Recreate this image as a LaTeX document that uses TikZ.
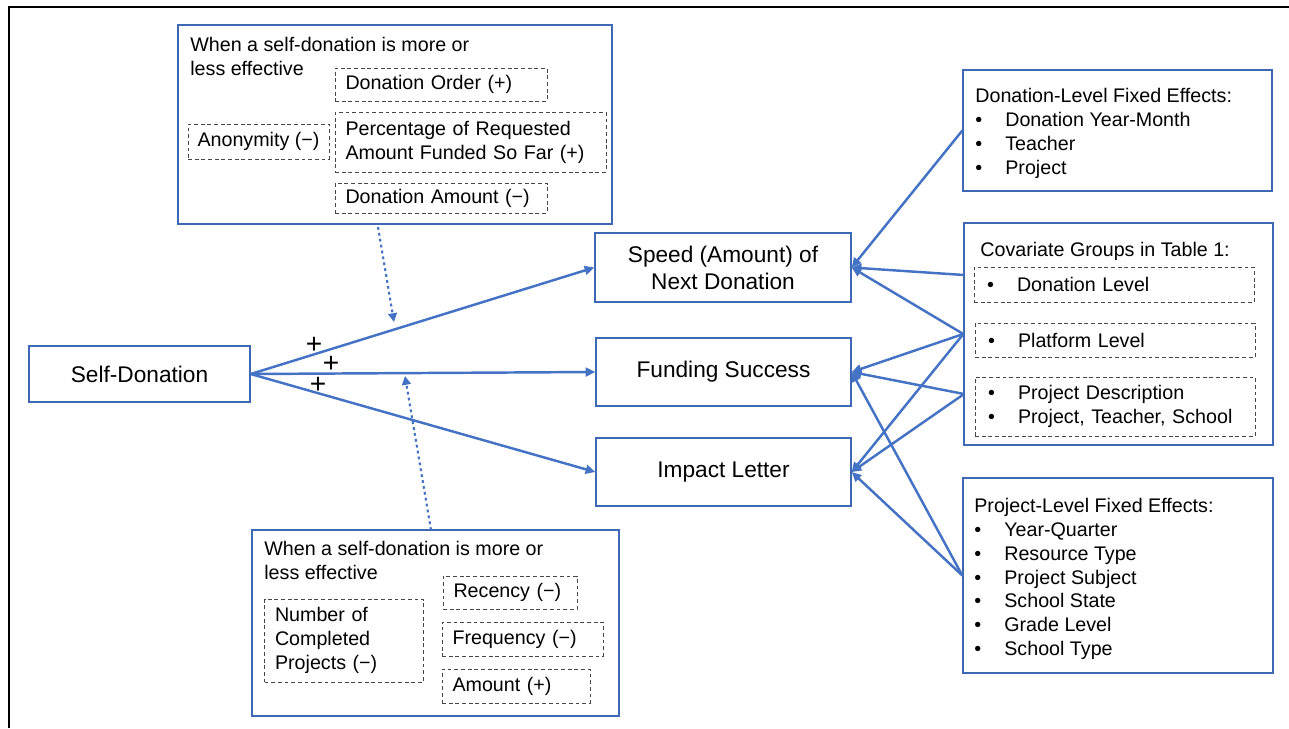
\documentclass[tikz,border=0pt]{standalone}
\usepackage{fontspec}
\setmainfont{Liberation Sans}
\usetikzlibrary{arrows.meta, positioning, calc}
\definecolor{lineblue}{RGB}{68,114,196}
\definecolor{boxblue}{RGB}{62,104,180}
\definecolor{dashgray}{RGB}{70,70,70}
\newcommand{\modfont}{\fontsize{11.2pt}{13.55pt}\selectfont}
\newcommand{\outfont}{\fontsize{12.9pt}{15.4pt}\selectfont}
\newcommand{\bul}{\makebox[0.6cm][l]{\textbullet}}

\begin{document}
\begin{tikzpicture}[
      x=0.02cm, y=-0.02cm,
      every node/.style={font=\modfont},
      box/.style={draw=boxblue, line width=0.8pt, inner sep=0pt},
      outcome/.style={box, font=\outfont, align=center,
                      minimum width=5.1cm, minimum height=1.36cm},
      dbox/.style={draw=dashgray, dash pattern=on 2.2pt off 1.6pt,
                   line width=0.5pt, align=left, inner xsep=0.21cm,
                   inner ysep=0pt},
      txt/.style={anchor=north west, inner sep=0pt, align=left},
      arrow/.style={-{Triangle[length=5.5pt, width=5pt]}, line width=1.4pt,
                    draw=lineblue},
      marrow/.style={-{Triangle[length=5pt, width=5pt]}, line width=1.2pt,
                     draw=lineblue, dash pattern=on 1.6pt off 1.8pt},
      sign/.style={font=\fontsize{16pt}{16pt}\selectfont, inner sep=0pt},
    ]
    \useasboundingbox (0,0) rectangle (1289,728);

    % Marco
    \draw[line width=1.5pt] (9,728) -- (9,7) -- (1289,7);

    % Variable independiente y resultados
    \node[box, font=\outfont, minimum width=4.42cm, minimum height=1.12cm]
      (self) at (139.5,374) {Self-Donation};
    \node[outcome, minimum width=5.12cm, minimum height=1.38cm]
      (speed) at (723,267.5) {Speed (Amount) of\\Next Donation};
    \node[outcome] (fund)   at (723.5,372) {Funding Success};
    \node[outcome] (impact) at (723.5,472) {Impact Letter};

    % Moderadores (arriba)
    \node[box, minimum width=8.68cm, minimum height=3.98cm]
      (topmod) at (395,124.5) {};
    \node[txt] (toptitle) at (190,37)
      {When a self-donation is more or\\less effective};
    \node[dbox, text width=3.82cm, minimum height=0.66cm]
      (order) at (441,84.5) {Donation Order (+)};
    \node[dbox, text width=5.0cm, minimum height=1.2cm]
      (pct) at (470.5,142) {Percentage of Requested\\Amount Funded So Far (+)};
    \node[dbox, inner xsep=0pt, minimum width=2.82cm, minimum height=0.7cm]
      (anon) at (258.5,141.5) {Anonymity (−)};
    \node[dbox, text width=3.82cm, minimum height=0.6cm]
      (damt) at (441,198) {Donation Amount (−)};

    % Moderadores (abajo)
    \node[box, minimum width=7.34cm, minimum height=3.72cm]
      (botmod) at (435.5,623) {};
    \node[txt] (bottitle) at (264,541)
      {When a self-donation is more or\\less effective};
    \node[dbox, text width=2.76cm, minimum height=1.66cm]
      (ncomp) at (344,640.5) {Number of\\Completed\\Projects (−)};
    \node[dbox, text width=2.26cm, minimum height=0.66cm]
      (rec) at (510,592.5) {Recency (−)};
    \node[dbox, text width=2.8cm, minimum height=0.68cm]
      (freq) at (522.5,639) {Frequency (−)};
    \node[dbox, text width=2.54cm, minimum height=0.68cm]
      (amt) at (516,686) {Amount (+)};

    % Controles (derecha)
    \node[box, minimum width=6.18cm, minimum height=2.42cm]
      (dfe) at (1117.5,130.5) {};
    \node[txt] (dfetext) at (975,88)
      {Donation-Level Fixed Effects:\\
       \bul Donation Year-Month\\
       \bul Teacher\\
       \bul Project};

    \node[box, minimum width=6.18cm, minimum height=4.44cm]
      (cov) at (1118.5,334) {};
    \node[txt] (covtitle) at (980,242) {Covariate Groups in Table 1:};
    \node[dbox, inner xsep=0.26cm, text width=5.08cm, minimum height=0.7cm]
      (covdon) at (1114,284.5) {\bul Donation Level};
    \node[dbox, inner xsep=0.26cm, text width=5.08cm, minimum height=0.68cm]
      (covplat) at (1115,340) {\bul Platform Level};
    \node[dbox, inner xsep=0.26cm, text width=5.08cm, minimum height=1.18cm]
      (covproj) at (1115,406.5)
      {\bul Project Description\\\bul Project, Teacher, School};

    \node[box, minimum width=6.2cm, minimum height=3.9cm]
      (pfe) at (1118,575.5) {};
    \node[txt] (pfetext) at (974,498)
      {Project-Level Fixed Effects:\\
       \bul Year-Quarter\\
       \bul Resource Type\\
       \bul Project Subject\\
       \bul School State\\
       \bul Grade Level\\
       \bul School Type};

    % Puntos de salida y llegada
    \coordinate (covtop) at (964,275);
    \coordinate (covbot) at (964,394);
    \coordinate (topout) at (378,227);
    \coordinate (topin)  at (394,322);
    \coordinate (botout) at (431,530);
    \coordinate (botin)  at (405,376);

    % Efectos principales
    \draw[arrow] (self.east) -- (speed.west);
    \draw[arrow] (self.east) -- (fund.west);
    \draw[arrow] (self.east) -- (impact.west);
    \node[sign] (plus1) at (314,345) {+};
    \node[sign] (plus2) at (331,364) {+};
    \node[sign] (plus3) at (318,385) {+};

    % Moderacion
    \draw[marrow] (topout) -- (topin);
    \draw[marrow] (botout) -- (botin);

    % Controles -> resultados
    \draw[arrow] (dfe.west) -- (speed.east);
    \draw[arrow] (covtop)   -- (speed.east);
    \draw[arrow] (cov.west) -- (speed.east);
    \draw[arrow] (cov.west) -- (fund.east);
    \draw[arrow] (cov.west) -- (impact.east);
    \draw[arrow] (covbot)   -- (fund.east);
    \draw[arrow] (covbot)   -- (impact.east);
    \draw[arrow] (pfe.west) -- (fund.east);
    \draw[arrow] (pfe.west) -- (impact.east);

  \end{tikzpicture}
\end{document}
